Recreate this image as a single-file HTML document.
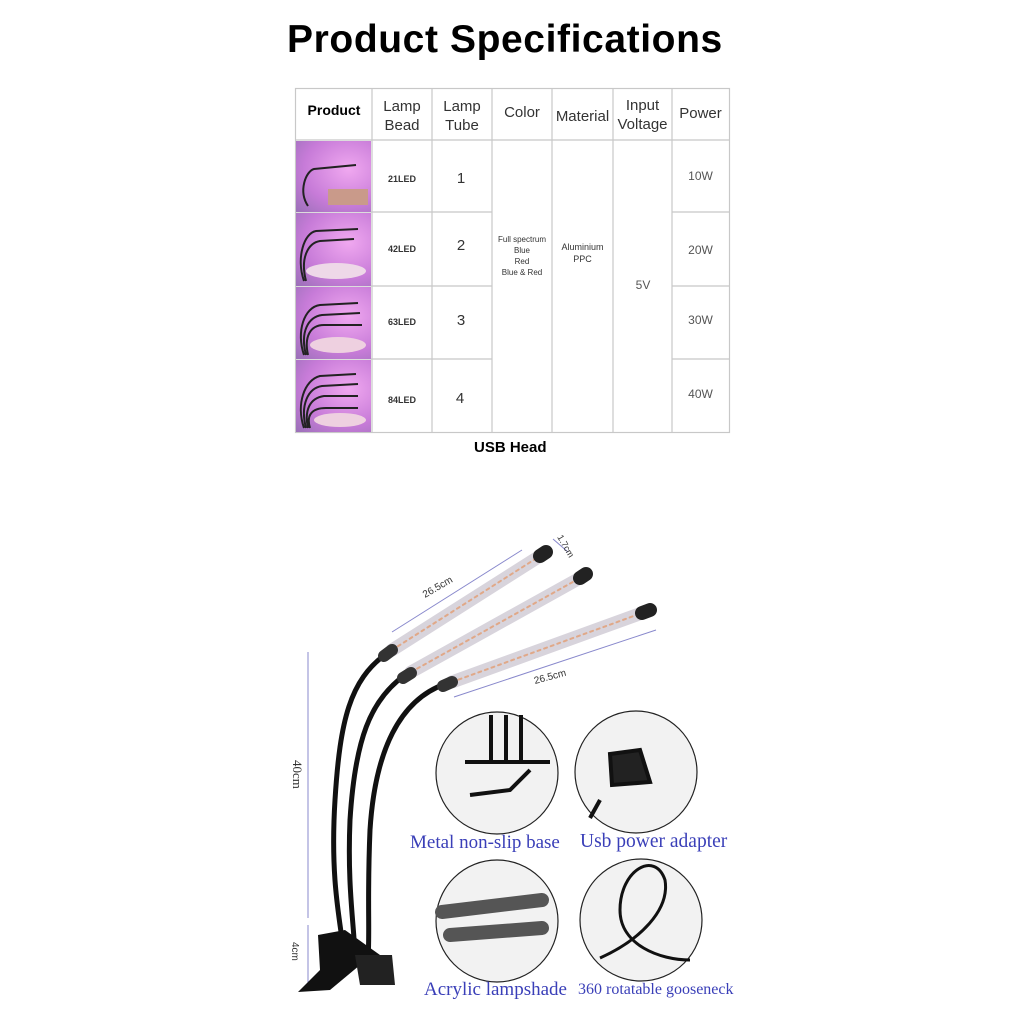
<!DOCTYPE html>
<html><head><meta charset="utf-8"><style>
html,body{margin:0;padding:0;background:#fff;width:1024px;height:1024px;overflow:hidden;position:relative;font-family:"Liberation Sans",sans-serif}
.a{position:absolute}
.t{position:absolute;text-align:center;color:#333;font-size:15px;line-height:19px}
.img{position:absolute;background:radial-gradient(ellipse at 70% 40%,#f0a8f0,#c77bd8 60%,#9a70b8);overflow:hidden}
.lbl{position:absolute;font-family:"Liberation Serif",serif;color:#3a3fb8;font-size:19px}
</style></head><body>
<div class="a" style="left:287px;top:18px;font-size:39px;font-weight:bold;color:#000;letter-spacing:0.6px">Product Specifications</div>

<svg class="a" style="left:0;top:0" width="1024" height="470">
<g stroke="#c8c8c8" stroke-width="1.2" fill="none">
<rect x="295.5" y="88.5" width="434" height="344"/>
<line x1="372" y1="88" x2="372" y2="432"/><line x1="432" y1="88" x2="432" y2="432"/>
<line x1="492" y1="88" x2="492" y2="432"/><line x1="552" y1="88" x2="552" y2="432"/>
<line x1="613" y1="88" x2="613" y2="432"/><line x1="672" y1="88" x2="672" y2="432"/>
<line x1="295" y1="140" x2="729" y2="140"/>
<line x1="295" y1="212" x2="492" y2="212"/><line x1="295" y1="286" x2="492" y2="286"/><line x1="295" y1="359" x2="492" y2="359"/>
<line x1="672" y1="212" x2="729" y2="212"/><line x1="672" y1="286" x2="729" y2="286"/><line x1="672" y1="359" x2="729" y2="359"/>
</g>
</svg>
<div class="img" style="left:296px;top:141px;width:75px;height:71px"><svg width="75" height="71"><path d="M12 65 C2 50 10 30 18 28 L60 24" stroke="#222" stroke-width="2" fill="none"/><rect x="32" y="48" width="40" height="16" fill="#c99a8a"/></svg></div>
<div class="img" style="left:296px;top:213px;width:75px;height:73px"><svg width="75" height="73"><path d="M8 68 C0 45 8 20 20 18 L62 16 M10 68 C4 45 12 30 24 28 L58 26" stroke="#222" stroke-width="2" fill="none"/><ellipse cx="40" cy="58" rx="30" ry="8" fill="#eed8e8"/></svg></div>
<div class="img" style="left:296px;top:287px;width:75px;height:72px"><svg width="75" height="72"><path d="M8 68 C0 45 8 20 24 18 L62 16 M10 68 C4 45 12 30 26 28 L64 26 M12 68 C8 50 14 38 28 38 L66 38" stroke="#222" stroke-width="2" fill="none"/><ellipse cx="42" cy="58" rx="28" ry="8" fill="#eed0e0"/></svg></div>
<div class="img" style="left:296px;top:360px;width:75px;height:72px"><svg width="75" height="72"><path d="M8 68 C0 45 8 20 24 16 L60 14 M10 68 C4 45 12 28 26 26 L62 24 M12 68 C8 50 14 38 28 36 L62 36 M14 68 C10 55 16 48 30 48 L62 48" stroke="#222" stroke-width="2" fill="none"/><ellipse cx="44" cy="60" rx="26" ry="7" fill="#eed0e0"/></svg></div>

<div class="t" style="left:296px;top:101px;width:76px;font-weight:bold;color:#000;font-size:14px">Product</div>
<div class="t" style="left:372px;top:97px;width:60px">Lamp<br>Bead</div>
<div class="t" style="left:432px;top:97px;width:60px">Lamp<br>Tube</div>
<div class="t" style="left:492px;top:103px;width:60px">Color</div>
<div class="t" style="left:552px;top:107px;width:61px">Material</div>
<div class="t" style="left:613px;top:96px;width:59px">Input<br>Voltage</div>
<div class="t" style="left:672px;top:104px;width:57px">Power</div>
<div class="t" style="left:372px;top:170px;width:60px;font-size:9px;font-weight:bold">21LED</div>
<div class="t" style="left:372px;top:240px;width:60px;font-size:9px;font-weight:bold">42LED</div>
<div class="t" style="left:372px;top:313px;width:60px;font-size:9px;font-weight:bold">63LED</div>
<div class="t" style="left:372px;top:391px;width:60px;font-size:9px;font-weight:bold">84LED</div>
<div class="t" style="left:432px;top:169px;width:58px">1</div>
<div class="t" style="left:432px;top:236px;width:58px">2</div>
<div class="t" style="left:432px;top:311px;width:58px">3</div>
<div class="t" style="left:432px;top:389px;width:56px">4</div>
<div class="t" style="left:492px;top:234px;width:60px;font-size:8px;line-height:11px">Full spectrum<br>Blue<br>Red<br>Blue &amp; Red</div>
<div class="t" style="left:552px;top:241px;width:61px;font-size:9px;line-height:12px">Aluminium<br>PPC</div>
<div class="t" style="left:613px;top:276px;width:60px;font-size:12px;color:#555">5V</div>
<div class="t" style="left:672px;top:167px;width:57px;font-size:12px;color:#555">10W</div>
<div class="t" style="left:672px;top:241px;width:57px;font-size:12px;color:#555">20W</div>
<div class="t" style="left:672px;top:311px;width:57px;font-size:12px;color:#555">30W</div>
<div class="t" style="left:672px;top:385px;width:57px;font-size:12px;color:#555">40W</div>
<div class="a" style="left:474px;top:439px;font-size:15px;font-weight:bold;color:#000">USB Head</div>

<svg class="a" style="left:0;top:470px" width="1024" height="554" viewBox="0 470 1024 554">
<g stroke="#8888cc" stroke-width="1" fill="#8888cc">
<line x1="392" y1="632" x2="522" y2="550"/><line x1="454" y1="697" x2="656" y2="630"/>
<line x1="308" y1="652" x2="308" y2="918"/><line x1="308" y1="925" x2="308" y2="985"/>
<line x1="553" y1="539" x2="568" y2="552"/>
</g>
<text x="425" y="598" font-size="10" fill="#333" transform="rotate(-30 425 598)" font-family="Liberation Sans">26.5cm</text>
<text x="535" y="684" font-size="10" fill="#333" transform="rotate(-15 535 684)" font-family="Liberation Sans">26.5cm</text>
<text x="557" y="537" font-size="9" fill="#333" transform="rotate(60 557 537)" font-family="Liberation Sans">1.7cm</text>
<text x="293" y="760" font-size="13" fill="#333" transform="rotate(90 293 760)" font-family="Liberation Serif">40cm</text>
<text x="292" y="942" font-size="10" fill="#333" transform="rotate(90 292 942)" font-family="Liberation Sans">4cm</text>
<g stroke="#111" stroke-width="5" fill="none">
<path d="M386 654 C350 680 340 720 335 800 C330 880 340 920 345 960"/>
<path d="M405 675 C370 700 355 740 350 820 C347 890 355 930 355 960"/>
<path d="M445 684 C400 700 375 750 370 830 C367 900 370 930 368 960"/>
</g>
<g stroke-linecap="round">
<line x1="392" y1="650" x2="540" y2="556" stroke="#d8d4dc" stroke-width="13"/>
<line x1="411" y1="672" x2="580" y2="578" stroke="#d8d4dc" stroke-width="13"/>
<line x1="452" y1="682" x2="642" y2="613" stroke="#d8d4dc" stroke-width="13"/>
<line x1="392" y1="650" x2="540" y2="556" stroke="#e0a888" stroke-width="2" stroke-dasharray="3 4"/>
<line x1="411" y1="672" x2="580" y2="578" stroke="#e0a888" stroke-width="2" stroke-dasharray="3 4"/>
<line x1="452" y1="682" x2="642" y2="613" stroke="#e0a888" stroke-width="2" stroke-dasharray="3 4"/>
<line x1="540" y1="556" x2="546" y2="552" stroke="#222" stroke-width="14"/>
<line x1="580" y1="578" x2="586" y2="574" stroke="#222" stroke-width="14"/>
<line x1="642" y1="613" x2="650" y2="610" stroke="#222" stroke-width="14"/>
<line x1="384" y1="656" x2="392" y2="650" stroke="#333" stroke-width="12"/>
<line x1="403" y1="678" x2="411" y2="673" stroke="#333" stroke-width="12"/>
<line x1="443" y1="686" x2="452" y2="682" stroke="#333" stroke-width="12"/>
</g>
<path d="M318 935 L345 930 L380 955 L360 965 L330 990 L298 992 L320 970 Z" fill="#111"/>
<path d="M355 955 L392 955 L395 985 L360 985 Z" fill="#222"/>
<g fill="#f2f2f2" stroke="#222" stroke-width="1.2">
<circle cx="497" cy="773" r="61"/><circle cx="636" cy="772" r="61"/>
<circle cx="497" cy="921" r="61"/><circle cx="641" cy="920" r="61"/>
</g>
<g stroke="#111" stroke-width="4" fill="none">
<path d="M491 715 L491 760 M506 715 L506 760 M521 715 L521 760"/>
<path d="M465 762 L550 762 M470 795 L510 790 L530 770"/>
<path d="M640 750 L610 754 L612 785 L650 782 Z" fill="#222"/>
<path d="M600 800 L590 818" />
<path d="M442 912 L542 900 M450 935 L542 928" stroke="#555" stroke-width="14" stroke-linecap="round"/>
<path d="M600 958 C640 940 670 910 665 880 C655 850 620 870 620 910 C620 945 660 960 690 960" stroke-width="3"/>
</g>
</svg>
<div class="lbl" style="left:410px;top:832px">Metal non-slip base</div>
<div class="lbl" style="left:580px;top:831px;font-size:19.5px">Usb power adapter</div>
<div class="lbl" style="left:424px;top:979px;font-size:19px">Acrylic lampshade</div>
<div class="lbl" style="left:578px;top:981px;font-size:16px">360 rotatable gooseneck</div>
</body></html>
